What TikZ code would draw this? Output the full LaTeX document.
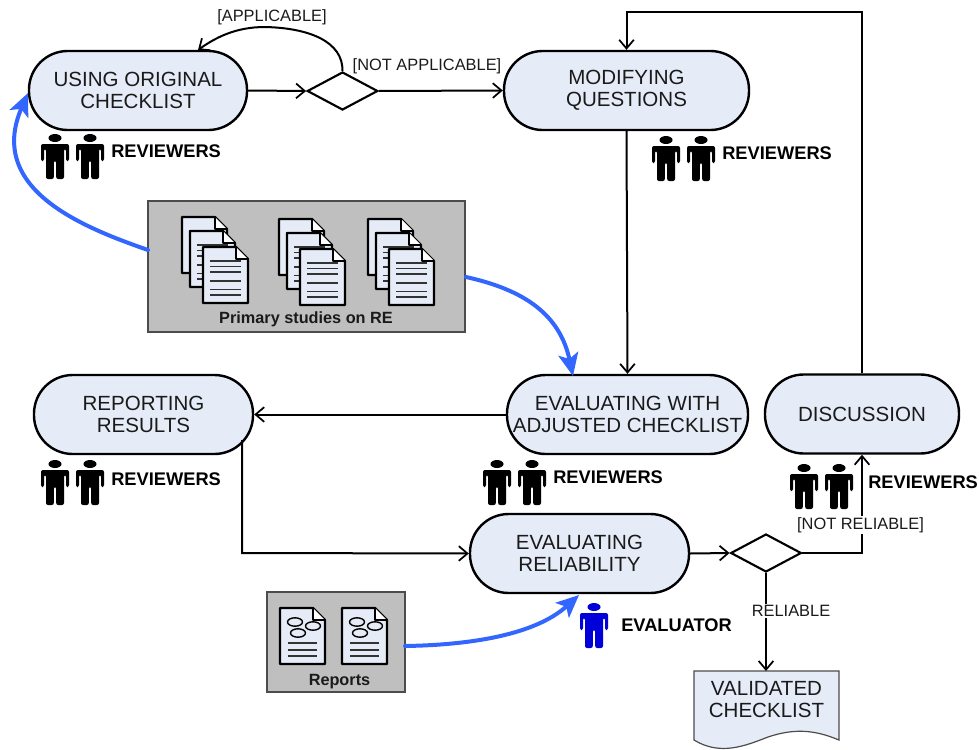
\documentclass[tikz,border=0pt]{standalone}
\usepackage{fontspec}
\setmainfont{Liberation Sans}
\usetikzlibrary{arrows.meta,shapes.geometric}
\definecolor{soft}{HTML}{E6ECF7}
\definecolor{greybox}{HTML}{BFBFBF}
\definecolor{bluearrow}{HTML}{3366FF}
\definecolor{ink}{HTML}{1A1A1A}
\tikzset{
  flow/.style={draw=black,line width=1.5pt,-{Straight Barb[length=6.5pt,width=11pt,line width=1.3pt]}},
  feed/.style={draw=bluearrow,line width=3pt,line cap=round,-{Stealth[length=17pt,width=15pt,inset=4pt]}},
  activity/.style={draw=black,line width=1.8pt,fill=soft,rounded corners=29pt,minimum height=59.25pt,inner sep=0pt,align=center,font=\fontsize{15.4}{16.5}\selectfont,text=ink},
  decision/.style={diamond,draw=black,line width=1.6pt,fill=white,aspect=1.85,inner sep=0pt,minimum width=53pt,minimum height=28.5pt},
  holder/.style={draw=black!70,line width=.8pt,fill=greybox,inner sep=0pt},
  guard/.style={font=\fontsize{12.3}{14}\selectfont,text=ink,inner sep=1pt},
  role/.style={font=\fontsize{13.7}{15}\bfseries\selectfont,anchor=west,inner sep=0pt},
  holdercap/.style={font=\fontsize{12.2}{13}\bfseries\selectfont,text=ink,inner sep=0pt},
  sheet/.style={draw=black,line width=1.6pt,fill=soft,line join=round},
}
% page outline with a folded corner, top-left at (#1,#2)
\newcommand{\sheetbase}[2]{%
  \draw[sheet] (#1,#2) -- ++(33,0) -- ++(12,12) -- ++(0,44) -- ++(-45,0) -- cycle;
  \draw[sheet,fill=white] (#1+33,#2) -- ++(0,12) -- ++(12,0);
}
% page with text lines
\newcommand{\textsheet}[2]{%
  \sheetbase{#1}{#2}
  \foreach \ly in {14,19.5,25,34,42.5,48}{
    \draw[black!80,line width=1pt] (#1+7,#2+\ly) -- ++(31,0);
  }
}
% page with little ovals and text lines
\newcommand{\ovalsheet}[2]{%
  \sheetbase{#1}{#2}
  \foreach \ox/\oy in {15/14,33/18,18/25}{
    \draw[black,line width=1.05pt,fill=soft] (#1+\ox,#2+\oy) ellipse (7.5 and 4.2);
  }
  \foreach \ly in {35,42,48}{
    \draw[black!80,line width=1pt] (#1+8,#2+\ly) -- ++(29,0);
  }
}
\newcommand{\sheetstack}[2]{%
  \textsheet{#1}{#2}
  \textsheet{#1+8}{#2+14}
  \textsheet{#1+21}{#2+30}
}
% standing person, top centre at (#1,#2)
\newcommand{\person}[3]{%
  \fill[#3] (#1,#2+4) ellipse (6.5 and 4);
  \fill[#3,rounded corners=1.5pt] (#1-14,#2+10) -- (#1+14,#2+10) -- (#1+14,#2+27) -- (#1+11,#2+27) -- (#1+11,#2+15) -- (#1+9,#2+15) -- (#1+9,#2+45) -- (#1+1.2,#2+45) -- (#1+1.2,#2+27) -- (#1-1.2,#2+27) -- (#1-1.2,#2+45) -- (#1-9,#2+45) -- (#1-9,#2+15) -- (#1-11,#2+15) -- (#1-11,#2+27) -- (#1-14,#2+27) -- cycle;
}
\begin{document}
\begin{tikzpicture}[x=.75pt,y=-.75pt]
\useasboundingbox (0,0) rectangle (979,750);

% activities
\node[activity,minimum width=163.5pt] (use) at (138,90.5) {USING ORIGINAL\\CHECKLIST};
\node[activity,minimum width=183.75pt] (mod) at (626.5,90.5) {MODIFYING\\QUESTIONS};
\node[activity,minimum width=180.75pt] (eval) at (627.5,414.5) {EVALUATING WITH\\ADJUSTED CHECKLIST};
\node[activity,minimum width=164.25pt] (report) at (143.5,414.5) {REPORTING\\RESULTS};
\node[activity,minimum width=145.5pt] (disc) at (862,414) {DISCUSSION};
\node[activity,minimum width=164.25pt] (rel) at (579.5,553.5) {EVALUATING\\RELIABILITY};

% decisions
\node[decision] (d1) at (342.5,91) {};
\node[decision] (d2) at (766,553) {};

% output document
\path[draw=black!70,line width=.9pt,fill=soft] (694,671) -- (839,671) -- (839,740)
  .. controls (815,730) and (795,728) .. (768,737)
  .. controls (745,746) and (720,756) .. (694,740) -- cycle;
\node[font=\fontsize{15.4}{16.5}\selectfont,text=ink,align=center,inner sep=0pt] (valid) at (766.5,700) {VALIDATED\\CHECKLIST};
\coordinate (validtop) at (766,671);

% input holders
\node[holder,minimum width=237.75pt,minimum height=98.25pt] (studies) at (306.5,266.5) {};
\sheetstack{182}{217}
\sheetstack{279}{219}
\sheetstack{368}{219}
\node[holdercap] (studiescap) at (306,319) {Primary studies on RE};

\node[holder,minimum width=103.5pt,minimum height=75pt] (reports) at (336,642) {};
\ovalsheet{280}{608}
\ovalsheet{342}{608}
\node[holdercap] (reportscap) at (339.5,682) {Reports};

% connectors
\draw[flow] (use.east) -- (d1.west);
\draw[flow] (d1.north) .. controls (343,42) and (310,28) .. (265,27)
   .. controls (235,27) and (215,38) .. (198,50);
\draw[flow] (d1.east) -- (mod.west);
\draw[flow] (mod.south) -- (eval.north);
\draw[flow] (disc.north) -- (862,12) -- (626.5,12) -- (mod.north);
\draw[flow] (eval.west) -- (report.east);
\draw[flow] (242,440) -- (242,553) -- (rel.west);
\draw[flow] (rel.east) -- (d2.west);
\draw[flow] (d2.east) -- (862,553) -- (disc.south);
\draw[flow] (d2.south) -- (validtop);

% feeds
\draw[feed] (148,250) .. controls (85,228) and (-14,190) .. (28,93);
\draw[feed] (466,277) .. controls (525,290) and (560,315) .. (573,376);
\draw[feed] (405,646) .. controls (470,645) and (535,635) .. (579,595);

% guards
\node[guard] (gapp) at (272,17) {[APPLICABLE]};
\node[guard] (gnot) at (427,66) {[NOT APPLICABLE]};
\node[guard,fill=white] (gnr) at (860.5,525) {[NOT RELIABLE]};
\node[guard,fill=white] (gr) at (791,611) {RELIABLE};

% roles
\person{55}{134}{black}\person{90}{134}{black}
\node[role] (r1) at (111,151) {REVIEWERS};
\person{666}{136}{black}\person{701}{136}{black}
\node[role] (r2) at (722,153) {REVIEWERS};
\person{497}{460}{black}\person{532}{460}{black}
\node[role] (r3) at (553,477) {REVIEWERS};
\person{55}{460}{black}\person{90}{460}{black}
\node[role] (r4) at (111,479) {REVIEWERS};
\person{804}{464}{black}\person{839}{464}{black}
\node[role] (r5) at (868,482) {REVIEWERS};
\person{594}{603}{blue!85!black}
\node[role] (r6) at (621,625) {EVALUATOR};
\end{tikzpicture}
\end{document}
